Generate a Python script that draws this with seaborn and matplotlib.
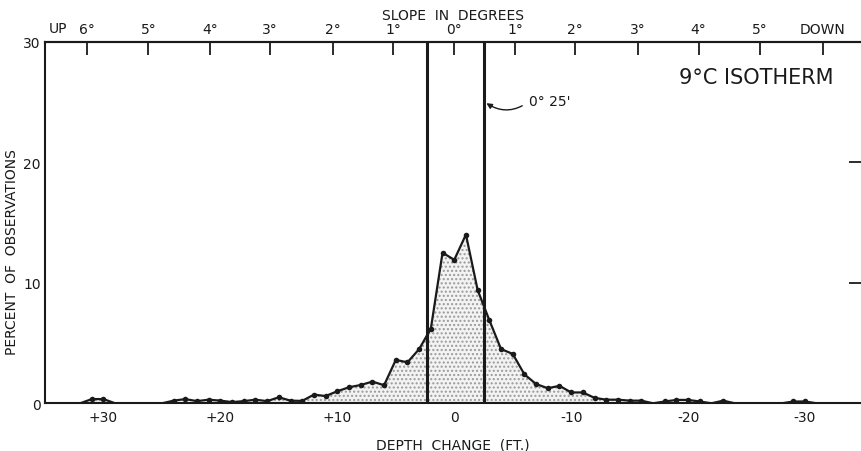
import matplotlib
matplotlib.use("Agg")
import matplotlib.pyplot as plt
import numpy as np
import pandas as pd
import seaborn as sns

# ---------------- data ----------------
depth_ft = list(range(33, -34, -1))
percent = [0, 0, 0.35, 0.35, 0, 0, 0, 0, 0,            # 33 .. 25
           0.22, 0.35, 0.18, 0.30, 0.22, 0.10, 0.18, 0.30, 0.18,  # 24 .. 16
           0.50, 0.22, 0.20, 0.72, 0.60, 1.00, 1.33, 1.52, 1.80,  # 15 .. 7
           1.50, 3.60, 3.40, 4.50, 6.20, 12.5, 11.9,              # 6 .. 0
           14.0, 9.4, 6.9, 4.5, 4.1, 2.4, 1.6, 1.25, 1.45,        # -1 .. -9
           0.90, 0.90, 0.45, 0.30, 0.30, 0.22, 0.22, 0, 0.15,     # -10 .. -18
           0.28, 0.28, 0.15, 0, 0.22, 0, 0, 0, 0, 0,              # -19 .. -28
           0.15, 0.15, 0, 0, 0]                                   # -29 .. -33

depth_ticks = [30, 20, 10, 0, -10, -20, -30]
depth_tick_labels = ["+30", "+20", "+10", "0", "-10", "-20", "-30"]
pct_ticks = [0, 10, 20, 30]
slope_pos = [31.4, 26.15, 20.9, 15.8, 10.4, 5.2, 0, -5.2, -10.3, -15.7, -20.9, -26.15, -31.5]
slope_labels = ["6°", "5°", "4°", "3°", "2°", "1°", "0°", "1°", "2°", "3°", "4°", "5°", "DOWN"]
limit_lines = [2.3, -2.55]

df = pd.DataFrame({"depth": depth_ft, "pct": percent})
nz = df[df["pct"] > 0]

# ---------------- style ----------------
sns.set_style("white")
plt.rcParams["font.family"] = ["DejaVu Sans"]
ink = "#1a1a1a"

fig = plt.figure(figsize=(8.61, 4.52), dpi=100)
ax_h = 361.6
ax = fig.add_axes([45 / 861, 47.7 / 452, 816 / 861, ax_h / 452])

ax.fill_between(df["depth"], 0, df["pct"], facecolor="#f3f3f3",
                hatch="....", edgecolor="#9a9a9a", linewidth=0, zorder=1)
sns.lineplot(data=df, x="depth", y="pct", ax=ax, color=ink, linewidth=1.6,
             sort=False, zorder=3)
sns.scatterplot(data=nz, x="depth", y="pct", ax=ax, color=ink, s=16,
                edgecolor=ink, linewidth=0, zorder=4)

for xv in limit_lines:
    ax.axvline(xv, color=ink, linewidth=2.2, zorder=5)

ax.set_xlim(35, (454 - 861) / 11.7)
ax.set_ylim(0, 30)

ax.set_xticks(depth_ticks)
ax.set_xticklabels(depth_tick_labels)
ax.set_yticks(pct_ticks)
ax.tick_params(axis="x", direction="in", length=9, width=1.3, color=ink,
               labelsize=10, pad=5, labelcolor=ink)
ax.tick_params(axis="y", direction="in", length=9, width=1.3, color=ink,
               labelsize=10, pad=3, labelcolor=ink, right=True)

for side in ["left", "bottom", "top"]:
    ax.spines[side].set_color(ink)
    ax.spines[side].set_linewidth(1.5)
ax.spines["right"].set_visible(False)

ax.set_xlabel("DEPTH  CHANGE  (FT.)", fontsize=10, color=ink)
ax.xaxis.set_label_coords(0.5, -(439 - 404.3) / ax_h)
ax.set_ylabel("PERCENT  OF  OBSERVATIONS", fontsize=10, color=ink)
ax.yaxis.set_label_coords(-0.032, 0.42)

sec = ax.secondary_xaxis("top")
sec.set_xticks(slope_pos)
sec.set_xticklabels(slope_labels)
sec.tick_params(direction="in", length=9, width=1.3, color=ink, labelsize=10,
                pad=4, labelcolor=ink)
sec.spines["top"].set_color(ink)
sec.spines["top"].set_linewidth(1.5)
sec.set_xlabel("SLOPE  IN  DEGREES", fontsize=10, color=ink, labelpad=2)

ax.text(33.9, 1.0 + 6.5 / ax_h, "UP", transform=ax.get_xaxis_transform(),
        ha="center", va="bottom", fontsize=10, color=ink)
ax.text(-25.8, 27.1, "9°C ISOTHERM", ha="center", va="center", fontsize=15,
        color=ink)
ax.annotate("0° 25'", xy=(-2.75, 24.9), xytext=(-6.4, 25.05), ha="left",
            va="center", fontsize=10, color=ink,
            arrowprops=dict(arrowstyle="-|>", color=ink, lw=1,
                            connectionstyle="arc3,rad=-0.35",
                            relpos=(0, 0.5), shrinkA=3, shrinkB=0,
                            mutation_scale=8))

fig.savefig("out.png", dpi=100)
